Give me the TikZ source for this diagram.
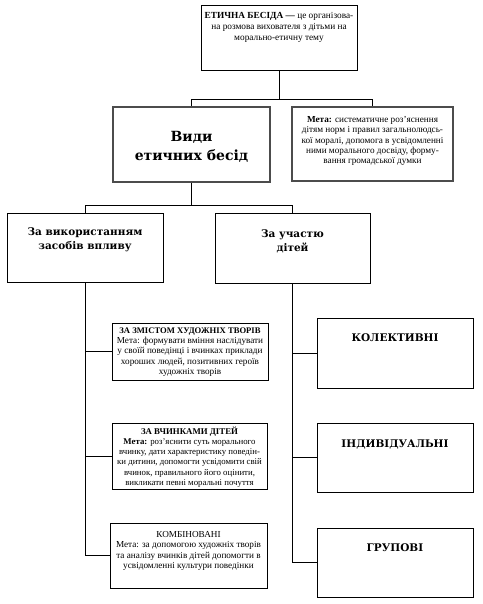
\documentclass[tikz,border=0pt]{standalone}
\usepackage{fontspec}
\setmainfont{Liberation Serif}
\newfontfamily\slab{DejaVu Serif}
\begin{document}
\begin{tikzpicture}[x=1pt,y=-1pt,
  box/.style={draw=black, line width=0.9pt, fill=white, inner sep=0pt},
  gbox/.style={draw=black!70, line width=1.4pt, fill=white, inner sep=0pt},
  ln/.style={line width=0.9pt},
  txt/.style={align=center, inner sep=0pt, font=\fontsize{9.2}{10.4}\selectfont},
  head/.style={align=center, inner sep=0pt, font=\slab\bfseries\fontsize{10.5}{13.5}\selectfont},
  big/.style={align=center, inner sep=0pt, font=\slab\bfseries\fontsize{14}{19}\selectfont}]
\useasboundingbox (0,0) rectangle (482,604);
\fill[white] (0,0) rectangle (482,604);

% top
\node[box, minimum width=156, minimum height=65] (top) at (279,37.5) {};
\node[txt, font=\fontsize{9.3}{11}\selectfont] (toptxt) at (279,27) {\textbf{ЕТИЧНА БЕСІДА —} це організова-\\на розмова вихователя з дітьми на\\морально-етичну тему};

% second row
\node[gbox, minimum width=157, minimum height=75] (vydy) at (191.5,144.5) {};
\node[big] (vydytxt) at (191.5,147) {Види\\етичних бесід};
\node[gbox, minimum width=161, minimum height=74] (meta) at (372.5,144) {};
\node[txt, font=\fontsize{9.2}{10.2}\selectfont] (metatxt) at (372.5,141) {\textbf{Мета:} систематичне роз'яснення\\дітям норм і правил загальнолюдсь-\\кої моралі, допомога в усвідомленні\\ними морального досвіду, форму-\\вання громадської думки};

% third row
\node[box, minimum width=156, minimum height=69] (lbox) at (85,247.5) {};
\node[head] (ltxt) at (85,240) {За використанням\\засобів впливу};
\node[box, minimum width=155, minimum height=70] (rbox) at (292.5,248) {};
\node[head] (rtxt) at (292.5,241.5) {За участю\\дітей};

% left column
\node[box, minimum width=156, minimum height=57] (zmist) at (190,351.5) {};
\node[txt] (zmisttxt) at (190,352) {{\bfseries\fontsize{8.6}{10.4}\selectfont ЗА ЗМІСТОМ ХУДОЖНІХ ТВОРІВ}\\Мета: формувати вміння наслідувати\\у своїй поведінці і вчинках приклади\\хороших людей, позитивних героїв\\художніх творів};
\node[box, minimum width=155, minimum height=66] (vch) at (189.5,456) {};
\node[txt, font=\fontsize{8.8}{10.3}\selectfont] (vchtxt) at (189.5,457) {\textbf{ЗА ВЧИНКАМИ ДІТЕЙ}\\\textbf{Мета:} роз'яснити суть морального\\вчинку, дати характеристику поведін-\\ки дитини, допомогти усвідомити свій\\вчинок, правильного його оцінити,\\викликати певні моральні почуття};
\node[box, minimum width=157, minimum height=65] (komb) at (188.5,555.5) {};
\node[txt] (kombtxt) at (188.5,551) {КОМБІНОВАНІ\\Мета: за допомогою художніх творів\\та аналізу вчинків дітей допомогти в\\усвідомленні культури поведінки};

% right column
\node[box, minimum width=156, minimum height=70] (kol) at (395,353) {};
\node[head] (koltxt) at (395,338) {КОЛЕКТИВНІ};
\node[box, minimum width=156, minimum height=69] (ind) at (395,457.5) {};
\node[head] (indtxt) at (395,444) {ІНДИВІДУАЛЬНІ};
\node[box, minimum width=156, minimum height=69] (grup) at (395,562.5) {};
\node[head] (gruptxt) at (395,548) {ГРУПОВІ};

% connectors
\coordinate (j1) at (279,99);
\draw[ln] (top.south) -- (j1) -| (vydy.north);
\draw[ln] (j1) -| (meta.north);
\coordinate (j2) at (191.5,205);
\draw[ln] (vydy.south) -- (j2) -| (lbox.north);
\draw[ln] (j2) -| (rbox.north);
\draw[ln] (lbox.south) |- (zmist.west);
\draw[ln] (lbox.south) |- (vch.west);
\draw[ln] (lbox.south) |- (komb.west);
\draw[ln] (rbox.south) |- (kol.west);
\draw[ln] (rbox.south) |- (ind.west);
\draw[ln] (rbox.south) |- (grup.west);
\end{tikzpicture}
\end{document}
